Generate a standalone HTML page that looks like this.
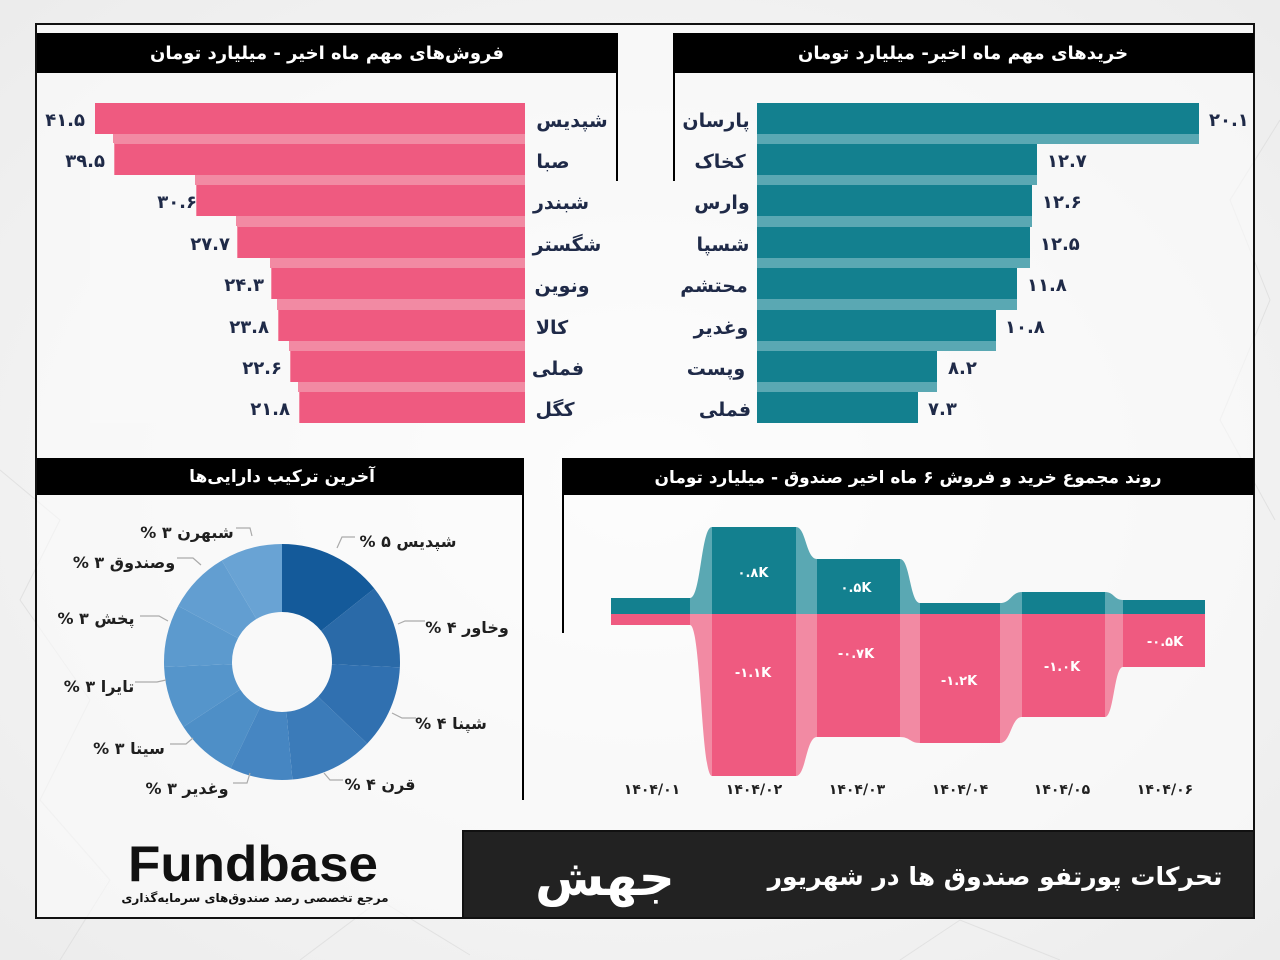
<!DOCTYPE html>
<html><head><meta charset="utf-8"><style>
html,body{margin:0;padding:0;background:#f6f6f6;}
svg{display:block;font-family:"DejaVu Sans","Liberation Sans",sans-serif;font-weight:bold;}
.r{direction:rtl;unicode-bidi:embed;}
</style></head><body>
<svg width="1280" height="960" viewBox="0 0 1280 960" xmlns="http://www.w3.org/2000/svg">
<defs>
<radialGradient id="bg" cx="50%" cy="50%" r="70%"><stop offset="0" stop-color="#fdfdfd"/><stop offset="1" stop-color="#ececec"/></radialGradient>
</defs>
<rect width="1280" height="960" fill="url(#bg)"/>
<g stroke="#ddd" stroke-width="1" fill="none" opacity="0.8">
<path d="M0 470 L60 520 L20 600 L90 700 L40 800 L110 880 L60 960"/>
<path d="M1280 120 L1230 200 L1270 300 L1220 420 L1275 520"/>
<path d="M300 960 L380 900 L470 955 M900 960 L960 920 L1060 960"/>
</g>
<rect x="36" y="24" width="1218" height="894" fill="#fbfbfb" fill-opacity="0.6" stroke="#111" stroke-width="2"/>

<!-- SALES panel -->
<rect x="37" y="33" width="581" height="40" fill="#000"/>
<line x1="617" y1="73" x2="617" y2="181" stroke="#000" stroke-width="2"/>
<text x="327" y="59" fill="#fff" font-size="18" text-anchor="middle" class="r">فروش‌های مهم ماه اخیر - میلیارد تومان</text>
<g fill="#f28aa3">
<rect x="95" y="103" width="430" height="320"/>
</g>
<g fill="#ef5a80">
<rect x="95" y="103" width="430" height="31"/>
<rect x="115" y="144" width="410" height="31"/>
<rect x="197" y="185" width="328" height="31"/>
<rect x="238" y="227" width="287" height="31"/>
<rect x="272" y="268" width="253" height="31"/>
<rect x="279" y="310" width="246" height="31"/>
<rect x="291" y="351" width="234" height="31"/>
<rect x="300" y="392" width="225" height="31"/>
</g>
<g fill="#f9f9f9">
<rect x="90" y="134" width="23" height="10"/>
<rect x="110" y="175" width="85" height="10"/>
<rect x="190" y="216" width="46" height="11"/>
<rect x="232" y="258" width="38" height="10"/>
<rect x="266" y="299" width="11" height="11"/>
<rect x="272" y="341" width="17" height="10"/>
<rect x="284" y="382" width="14" height="10"/>
<rect x="90" y="143" width="24" height="280"/>
<rect x="110" y="185" width="86" height="238"/>
<rect x="190" y="226" width="47" height="197"/>
<rect x="232" y="268" width="39" height="155"/>
<rect x="266" y="310" width="12" height="113"/>
<rect x="272" y="351" width="18" height="72"/>
<rect x="284" y="392" width="15" height="31"/>
</g>
<g fill="#1f2a48" font-size="18" text-anchor="end">
<text x="85" y="126">۴۱.۵</text>
<text x="105" y="167">۳۹.۵</text>
<text x="197" y="208">۳۰.۶</text>
<text x="230" y="250">۲۷.۷</text>
<text x="264" y="291">۲۴.۳</text>
<text x="269" y="333">۲۳.۸</text>
<text x="282" y="374">۲۲.۶</text>
<text x="290" y="415">۲۱.۸</text>
</g>
<g fill="#1f2a48" font-size="19" text-anchor="middle" class="r">
<text x="572" y="127">شپدیس</text>
<text x="553" y="168">صبا</text>
<text x="561" y="209">شبندر</text>
<text x="567" y="251">شگستر</text>
<text x="562" y="292">ونوین</text>
<text x="552" y="334">کالا</text>
<text x="558" y="375">فملی</text>
<text x="555" y="416">کگل</text>
</g>

<!-- BUY panel -->
<rect x="673" y="33" width="581" height="40" fill="#000"/>
<line x1="674" y1="73" x2="674" y2="181" stroke="#000" stroke-width="2"/>
<text x="963" y="59" fill="#fff" font-size="18" text-anchor="middle" class="r">خریدهای مهم ماه اخیر- میلیارد تومان</text>
<g fill="#5aa8b3">
<rect x="757" y="134" width="442" height="10"/>
<rect x="757" y="175" width="280" height="10"/>
<rect x="757" y="216" width="275" height="11"/>
<rect x="757" y="258" width="273" height="10"/>
<rect x="757" y="299" width="260" height="11"/>
<rect x="757" y="341" width="239" height="10"/>
<rect x="757" y="382" width="180" height="10"/>
</g>
<g fill="#13808f">
<rect x="757" y="103" width="442" height="31"/>
<rect x="757" y="144" width="280" height="31"/>
<rect x="757" y="185" width="275" height="31"/>
<rect x="757" y="227" width="273" height="31"/>
<rect x="757" y="268" width="260" height="31"/>
<rect x="757" y="310" width="239" height="31"/>
<rect x="757" y="351" width="180" height="31"/>
<rect x="757" y="392" width="161" height="31"/>
</g>
<g fill="#1f2a48" font-size="18">
<text x="1209" y="126">۲۰.۱</text>
<text x="1047" y="167">۱۲.۷</text>
<text x="1042" y="208">۱۲.۶</text>
<text x="1040" y="250">۱۲.۵</text>
<text x="1027" y="291">۱۱.۸</text>
<text x="1005" y="333">۱۰.۸</text>
<text x="948" y="374">۸.۲</text>
<text x="928" y="415">۷.۳</text>
</g>
<g fill="#1f2a48" font-size="19" text-anchor="middle" class="r">
<text x="716" y="127">پارسان</text>
<text x="720" y="168">کخاک</text>
<text x="722" y="209">وارس</text>
<text x="723" y="251">شسپا</text>
<text x="714" y="292">محتشم</text>
<text x="721" y="334">وغدیر</text>
<text x="716" y="375">وپست</text>
<text x="725" y="416">فملی</text>
</g>

<!-- PIE panel -->
<rect x="37" y="458" width="487" height="37" fill="#000"/>
<line x1="523" y1="495" x2="523" y2="800" stroke="#000" stroke-width="2"/>
<text x="282" y="482" fill="#fff" font-size="17" text-anchor="middle" class="r">آخرین ترکیب دارایی‌ها</text>
<g fill="none" stroke-width="68" transform="rotate(-90 282 662)">
<circle cx="282" cy="662" r="84" stroke="#145a9a" stroke-dasharray="75.41 527.79" stroke-dashoffset="0"/>
<circle cx="282" cy="662" r="84" stroke="#2a6aa8" stroke-dasharray="60.32 527.79" stroke-dashoffset="-75.41"/>
<circle cx="282" cy="662" r="84" stroke="#3070b0" stroke-dasharray="60.32 527.79" stroke-dashoffset="-135.73"/>
<circle cx="282" cy="662" r="84" stroke="#3b7bb9" stroke-dasharray="60.32 527.79" stroke-dashoffset="-196.05"/>
<circle cx="282" cy="662" r="84" stroke="#4686c2" stroke-dasharray="45.24 527.79" stroke-dashoffset="-256.37"/>
<circle cx="282" cy="662" r="84" stroke="#4e8fc7" stroke-dasharray="45.24 527.79" stroke-dashoffset="-301.61"/>
<circle cx="282" cy="662" r="84" stroke="#5595cb" stroke-dasharray="45.24 527.79" stroke-dashoffset="-346.85"/>
<circle cx="282" cy="662" r="84" stroke="#5c9ace" stroke-dasharray="45.24 527.79" stroke-dashoffset="-392.09"/>
<circle cx="282" cy="662" r="84" stroke="#629ed1" stroke-dasharray="45.24 527.79" stroke-dashoffset="-437.33"/>
<circle cx="282" cy="662" r="84" stroke="#69a3d4" stroke-dasharray="45.24 527.79" stroke-dashoffset="-482.57"/>
</g>
<g stroke="#aaa" stroke-width="1.2" fill="none">
<path d="M337 548 L342 537 L355 537"/>
<path d="M398 624 L405 621 L425 621"/>
<path d="M392 713 L402 718 L416 718"/>
<path d="M324 773 L330 780 L343 780"/>
<path d="M250 773 L247 783 L233 783"/>
<path d="M193 738 L186 744 L170 744"/>
<path d="M166 680 L157 682 L135 682"/>
<path d="M168 621 L159 616 L140 616"/>
<path d="M201 565 L193 558 L177 558"/>
<path d="M252 536 L250 528 L236 528"/>
</g>
<g fill="#1f1f1f" font-size="16" text-anchor="middle" class="r">
<text x="408" y="547">شپدیس ۵ %</text>
<text x="467" y="633">وخاور ۴ %</text>
<text x="451" y="729">شپنا ۴ %</text>
<text x="380" y="790">قرن ۴ %</text>
<text x="187" y="794">وغدیر ۳ %</text>
<text x="129" y="754">سیتا ۳ %</text>
<text x="99" y="692">تایرا ۳ %</text>
<text x="96" y="624">پخش ۳ %</text>
<text x="124" y="568">وصندوق ۳ %</text>
<text x="187" y="538">شبهرن ۳ %</text>
</g>

<!-- TREND panel -->
<rect x="562" y="458" width="692" height="37" fill="#000"/>
<line x1="563" y1="495" x2="563" y2="633" stroke="#000" stroke-width="2"/>
<text x="908" y="483" fill="#fff" font-size="17" text-anchor="middle" class="r">روند مجموع خرید و فروش ۶ ماه اخیر صندوق - میلیارد تومان</text>
<g fill="#5aa8b3">
<path d="M690 614 L690 598 C701 598 701 527 712 527 L712 614 Z"/>
<path d="M796 614 L796 527 C806 527 806 559 817 559 L817 614 Z"/>
<path d="M900 614 L900 559 C910 559 910 603 920 603 L920 614 Z"/>
<path d="M1000 614 L1000 603 C1011 603 1011 592 1022 592 L1022 614 Z"/>
<path d="M1105 614 L1105 592 C1114 592 1114 600 1123 600 L1123 614 Z"/>
</g>
<g fill="#f28aa3">
<path d="M690 614 L690 625 C701 625 701 776 712 776 L712 614 Z"/>
<path d="M796 614 L796 776 C806 776 806 737 817 737 L817 614 Z"/>
<path d="M900 614 L900 737 C910 737 910 743 920 743 L920 614 Z"/>
<path d="M1000 614 L1000 743 C1011 743 1011 717 1022 717 L1022 614 Z"/>
<path d="M1105 614 L1105 717 C1114 717 1114 667 1123 667 L1123 614 Z"/>
</g>
<g fill="#13808f">
<rect x="611" y="598" width="79" height="16"/>
<rect x="712" y="527" width="84" height="87"/>
<rect x="817" y="559" width="83" height="55"/>
<rect x="920" y="603" width="80" height="11"/>
<rect x="1022" y="592" width="83" height="22"/>
<rect x="1123" y="600" width="82" height="14"/>
</g>
<g fill="#ef5a80">
<rect x="611" y="614" width="79" height="11"/>
<rect x="712" y="614" width="84" height="162"/>
<rect x="817" y="614" width="83" height="123"/>
<rect x="920" y="614" width="80" height="129"/>
<rect x="1022" y="614" width="83" height="103"/>
<rect x="1123" y="614" width="82" height="53"/>
</g>
<g fill="#fff" font-size="13" text-anchor="middle">
<text x="753" y="577">۰.۸K</text>
<text x="856" y="592">۰.۵K</text>
<text x="753" y="677">-۱.۱K</text>
<text x="856" y="658">-۰.۷K</text>
<text x="959" y="685">-۱.۲K</text>
<text x="1062" y="671">-۱.۰K</text>
<text x="1165" y="646">-۰.۵K</text>
</g>
<g fill="#1f1f1f" font-size="14" text-anchor="middle">
<text x="652" y="794">۱۴۰۴/۰۱</text>
<text x="754" y="794">۱۴۰۴/۰۲</text>
<text x="857" y="794">۱۴۰۴/۰۳</text>
<text x="960" y="794">۱۴۰۴/۰۴</text>
<text x="1062" y="794">۱۴۰۴/۰۵</text>
<text x="1165" y="794">۱۴۰۴/۰۶</text>
</g>

<text x="128" y="881" fill="#111" font-size="50" font-family="Liberation Sans, sans-serif" font-weight="bold" textLength="250" lengthAdjust="spacingAndGlyphs">Fundbase</text>
<text x="255" y="902" fill="#111" font-size="12" text-anchor="middle" class="r">مرجع تخصصی رصد صندوق‌های سرمایه‌گذاری</text>

<rect x="463" y="831" width="791" height="87" fill="#222" stroke="#111" stroke-width="2"/>
<text x="995" y="885" fill="#fff" font-size="25" text-anchor="middle" class="r">تحرکات پورتفو صندوق ها در شهریور</text>
<text x="605" y="895" fill="#fff" font-size="50" text-anchor="middle" class="r">جهش</text>
</svg>
</body></html>
